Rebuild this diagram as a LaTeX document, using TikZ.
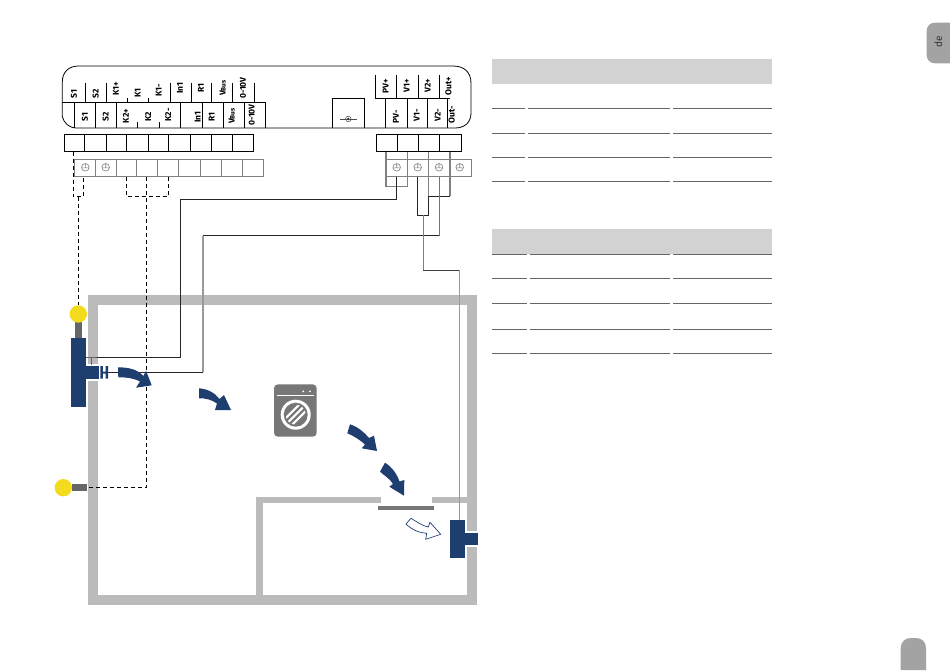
\documentclass[tikz,border=0pt]{standalone}
\usepackage{fontspec}
\setmainfont{Fira Sans}
\definecolor{wallc}{HTML}{BBBBBB}
\definecolor{navy}{HTML}{1F3E70}
\definecolor{yel}{HTML}{F3DB1E}
\definecolor{stem}{HTML}{666666}
\definecolor{tabc}{HTML}{A3A3A3}
\definecolor{headc}{HTML}{D2D2D2}
\definecolor{rulec}{HTML}{666666}
\definecolor{machine}{HTML}{777777}
\definecolor{termg}{HTML}{808080}
\tikzset{
  panel/.style={draw=black,line width=0.8pt},
  termbox/.style={draw=black,line width=0.8pt},
  greybox/.style={draw=termg,line width=0.7pt},
  lab/.style={font=\bfseries\fontsize{8.5}{9}\selectfont,rotate=90,inner sep=0pt,text=black},
  wire/.style={draw=black!85,line width=0.8pt},
  greywire/.style={draw=black!50,line width=1.1pt},
  dashwire/.style={draw=black,line width=0.8pt,dash pattern=on 4pt off 3pt},
  wall/.style={fill=wallc,draw=none},
  flow/.style={fill=navy,draw=none},
  tablehead/.style={fill=headc,draw=none},
  tablerule/.style={draw=rulec,line width=0.9pt},
  ground/.style={draw=termg,line width=0.6pt},
}
\newcommand{\gnd}[2]{\draw[ground] (#1,#2) circle (3.8) (#1-3.8,#2+0.6) -- (#1+3.8,#2+0.6) (#1,#2-3.8) -- (#1,#2+0.6);}
\begin{document}
\begin{tikzpicture}[x=1pt,y=-1pt]
\useasboundingbox (0,0) rectangle (950,670);
\fill[white] (0,0) rectangle (950,670);
% walls
\fill[wall] (87.7,295) rectangle (477,305);
\fill[wall] (87.7,295) rectangle (97.7,364);
\fill[wall] (87.7,380.7) rectangle (97.7,605);
\fill[wall] (87.7,595) rectangle (477,605);
\fill[wall] (467,295) rectangle (477,531);
\fill[wall] (467,546.7) rectangle (477,605);
\fill[wall] (256,497) rectangle (381,503.3);
\fill[wall] (432,497) rectangle (467,503.3);
\fill[wall] (256,497) rectangle (262.7,595);
\fill[machine] (378.3,506.3) rectangle (434.3,509.7);
% panel
\draw[panel] (471,83.3) .. controls (471,72) and (464,66) .. (453,66) -- (78.3,66) .. controls (68,66) and (62.3,73) .. (62.3,81.7)
  -- (62.3,116.7) .. controls (64,123) and (69,128) .. (76.7,128) -- (455,128) .. controls (465,128) and (471,122) .. (471,113) -- cycle;
% left upper row
\foreach \x in {85,106,170,191,211.7,232.7,254}{\draw[panel] (\x,83.3) -- (\x,102.3);}
\foreach \x in {127.3,148.3}{\draw[panel] (\x,98.3) -- (\x,102.3);}
\draw[panel] (62.3,102.3) -- (265,102.3);
\foreach \x/\a in {74.3/102.3,95/102.3,116.7/102.3,137.3/122,159/122,180.7/102.3,202.3/102.3,223.3/102.3,244/102.3,265/102.3}{\draw[panel] (\x,\a) -- (\x,128);}
\node[lab] (lS1) at (74,94) {S1};
\node[lab] (lS2) at (95.7,94) {S2};
\node[lab] (lK1p) at (116,89) {K1+};
\node[lab] (lK1) at (137.7,93) {K1};
\node[lab] (lK1m) at (158.7,90) {K1-};
\node[lab] (lIn1) at (180,88) {In1};
\node[lab] (lR1) at (201,88) {R1};
\node[lab] (lVBus) at (222.7,88) {V{\fontsize{6.5}{7}\selectfont Bus}};
\node[lab] (lV10) at (243,88) {0-10V};
\node[lab] (mS1) at (85,117) {S1};
\node[lab] (mS2) at (105.7,117) {S2};
\node[lab] (mK2p) at (126,116) {K2+};
\node[lab] (mK2) at (148.3,117) {K2};
\node[lab] (mK2m) at (168.3,115) {K2-};
\node[lab] (mIn1) at (197.7,117) {In1};
\node[lab] (mR1) at (211.7,117) {R1};
\node[lab] (mVBus) at (231.7,116) {V{\fontsize{6.5}{7}\selectfont Bus}};
\node[lab] (mV10) at (251.7,115) {0-10V};
% centre box
\draw[panel] (332.3,128) -- (332.3,98.3) -- (364.3,98.3) -- (364.3,128);
\draw[draw=black!70,line width=0.5pt] (340,119) -- (356.7,119);
\draw[draw=black!70,line width=0.5pt] (348.3,119) circle (2.8);
\fill[black!80] (348.3,119) circle (1.4);
% right rows
\foreach \x in {375.3,396.7,418,439.3}{\draw[panel] (\x,75) -- (\x,98.3);}
\draw[panel] (375.3,98.3) -- (450,98.3);
\foreach \x in {385.7,407.3,427.3,447.3}{\draw[panel] (\x,98.3) -- (\x,128);}
\node[lab] (rPVp) at (385.7,86) {PV+};
\node[lab] (rV1p) at (406.7,86) {V1+};
\node[lab] (rV2p) at (427.7,86) {V2+};
\node[lab] (rOutp) at (448.3,86) {Out+};
\node[lab] (rPVm) at (396,117) {PV-};
\node[lab] (rV1m) at (416.7,115) {V1-};
\node[lab] (rV2m) at (437.7,115) {V2-};
\node[lab] (rOutm) at (451.7,115) {Out-};
% boxes black
\draw[termbox] (64.3,134.3) rectangle (253.3,151.7);
\foreach \x in {84.7,106.3,126.7,148.3,168.7,190.3,211.7,232.3}{\draw[termbox] (\x,134.3) -- (\x,151.7);}
\draw[termbox] (376.7,134.3) rectangle (461.5,151.7);
\foreach \x in {397.7,418.7,439.3}{\draw[termbox] (\x,134.3) -- (\x,151.7);}
% grey rows
\draw[greybox] (74.3,159) rectangle (263.3,176.7);
\foreach \x in {95.7,116.3,136.7,157.3,178.3,200.3,221.3,242.3}{\draw[greybox] (\x,159) -- (\x,176.7);}
\draw[greybox] (386,159) rectangle (471,176.7);
\foreach \x in {407.7,428.7,450}{\draw[greybox] (\x,159) -- (\x,176.7);}
\gnd{85.3}{167.3}\gnd{105.7}{167.3}\gnd{396.7}{167.3}\gnd{417.7}{167.3}\gnd{439}{167.3}\gnd{459.7}{167.3}
% dashed wires
\draw[dashwire] (73.3,151.7) -- (73.3,196.7) -- (83.7,196.7) -- (83.7,176.7);
\draw[dashwire] (78.4,196.7) -- (78.4,305);
\draw[dashwire] (126.7,176.7) -- (126.7,196.7) -- (168.3,196.7) -- (168.3,176.7);
\draw[dashwire] (146.4,176.7) -- (146.4,487.3) -- (88,487.3);
% solid wires
\draw[greywire] (386,151.7) -- (386,186.7) -- (407.7,186.7) -- (407.7,151.7);
\draw[wire] (396.7,176.7) -- (396.7,199.3) -- (180.3,199.3) -- (180.3,357.3) -- (97,357.3);
\draw[draw=black!60,line width=0.9pt] (97,357.3) -- (86,357.3);
\draw[draw=black!60,line width=0.8pt] (91.7,357.3) -- (91.7,365);
\draw[greywire] (428.7,151.7) -- (428.7,196);
\draw[greywire] (450,151.7) -- (450,196);
\draw[wire] (428.7,196) -- (450,196);
\draw[wire] (417.7,176.7) -- (417.7,215) -- (428.7,215) -- (428.7,196);
\draw[draw=black!55,line width=1pt] (439,176.7) -- (439,235.7);
\draw[wire] (439,235.7) -- (203,235.7);
\draw[draw=black!40,line width=1.2pt] (203,235.7) -- (203,372.3);
\draw[wire] (203,372.3) -- (108,372.3);
\draw[greywire] (423.3,215) -- (423.3,270);
\draw[draw=black!75,line width=0.7pt] (423.3,270) -- (459.7,270);
\draw[draw=black!40,line width=1.3pt] (459.7,270) -- (459.7,520);
% left unit
\fill[stem] (74.7,322) rectangle (82,338.3);
\fill[yel] (78.3,314) circle (8.7);
\fill[flow] (71,338.3) rectangle (85.7,406.7);
\fill[flow] (85.7,366) rectangle (99,379);
\fill[flow] (100.3,366) rectangle (102.8,378.5) (105.6,366) rectangle (108.2,378.5) (102,371.5) rectangle (106,373.5);
\fill[stem] (71.7,484) rectangle (87.3,491.3);
\fill[yel] (63.3,487.7) circle (8.7);
% right unit
\fill[flow] (450.3,519.7) rectangle (465,557.7);
\fill[flow] (465,533) rectangle (478,545.3);
% flow arrows
\fill[flow] (118,367.3) .. controls (130,367.3) and (138,370) .. (143.5,376) -- (146,370.7) -- (151.7,385.3) -- (136,387.7) -- (140,381.5) .. controls (133,378) and (127,377.3) .. (118.3,377.3) -- cycle;
\fill[flow] (199,388.3) .. controls (208,389) and (215,393) .. (219.5,399) -- (224,395) -- (231,410) -- (215,410) -- (217,403.5) .. controls (212,400) and (206,398) .. (199,398.3) -- cycle;
\fill[flow] (350,424.3) .. controls (358,427) and (364,432) .. (369,438) -- (374,435.7) -- (377,451) -- (361.7,448.3) -- (365,444.5) .. controls (360,440) and (354,436) .. (347.3,433.3) -- cycle;
\fill[flow] (385,462.7) .. controls (392,467) and (397,474) .. (399.5,481.5) -- (404.3,480) -- (404,495.7) -- (389.3,486.7) -- (393,484) .. controls (390,479) and (385,476) .. (380,471.7) -- cycle;
\draw[draw=navy,line width=0.7pt,fill=white] (411,518.3) .. controls (417,522) and (423,526) .. (428.3,527) -- (430,522.3) -- (440.7,534.3) -- (425.7,539.3) -- (426.7,533.3) .. controls (420,533) and (412,530) .. (406,524) -- cycle;
% washing machine
\fill[machine,rounded corners=4pt] (274,384.3) rectangle (316.7,436.7);
\draw[white,line width=0.9pt] (276.7,395) -- (314,395);
\fill[white] (303.3,391.3) circle (1) (310,391.3) circle (1);
\fill[white] (295.7,414.7) circle (15);
\fill[machine] (295.7,414.7) circle (12);
\begin{scope}
\clip (295.7,414.7) circle (10);
\foreach \d in {-6.5,0,6.5}{\draw[white,line width=2.2pt] (295.7+\d-14,414.7+14) -- (295.7+\d+14,414.7-14);}
\end{scope}
% table 1
\fill[tablehead] (492.3,59.3) rectangle (772.3,84);
\foreach \y in {108.3,133.3,157.3,181.3}{
  \draw[tablerule] (492.3,\y) -- (524.7,\y);
  \draw[tablerule] (528,\y) -- (670,\y);
  \draw[tablerule] (673,\y) -- (772.3,\y);
}
% table 2
\fill[tablehead] (492.3,229.3) rectangle (772.3,254);
\foreach \y in {254.3,278.3,303.3,329.3,353.3}{
  \draw[tablerule] (492.3,\y) -- (527,\y);
  \draw[tablerule] (530,\y) -- (670,\y);
  \draw[tablerule] (673,\y) -- (772.3,\y);
}
% tabs
\fill[tabc] (950,22.7) -- (935,22.7) .. controls (930,22.7) and (926.7,26) .. (926.7,31) -- (926.7,55) .. controls (926.7,60) and (930,63.3) .. (935,63.3) -- (950,63.3) -- cycle;
\node[font=\fontsize{10}{11}\selectfont,text=black!80,rotate=90,inner sep=0pt] (tabde) at (938.5,42) {de};
\fill[tabc] (900.7,670) -- (900.7,648) .. controls (900.7,642) and (905,638) .. (911,638) -- (916,638) .. controls (922,638) and (926,642) .. (926,648) -- (926,670) -- cycle;
\end{tikzpicture}
\end{document}
